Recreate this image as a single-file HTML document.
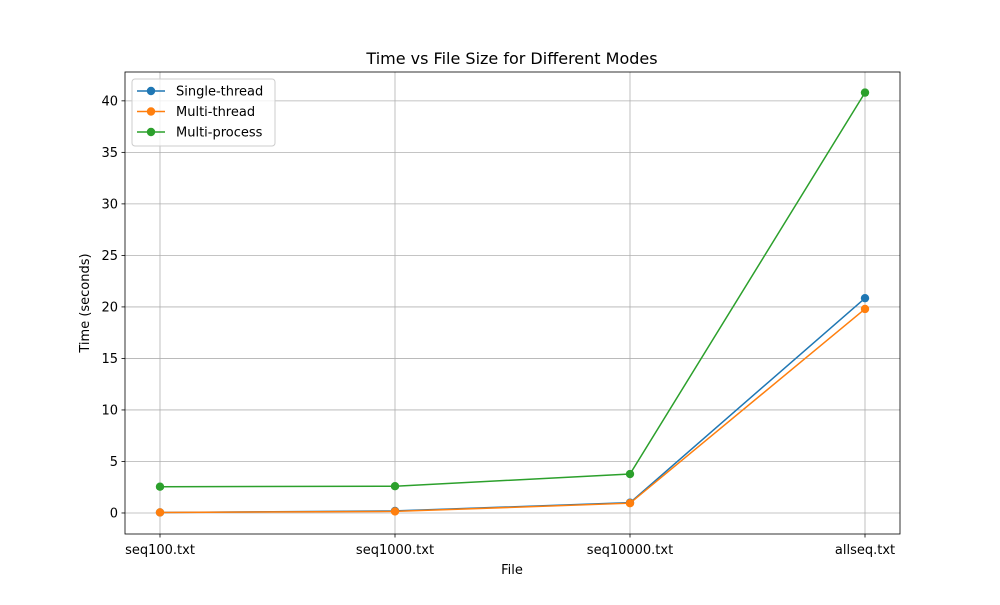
<!DOCTYPE html>
<html><head><meta charset="utf-8"><style>body{margin:0;background:#fff}svg{font-family:"DejaVu Sans","Liberation Sans",sans-serif}</style></head>
<body>
<svg id="chart" width="1000" height="600"></svg>
<script>
const categories=["seq100.txt","seq1000.txt","seq10000.txt","allseq.txt"];
const singleThread=[0.05,0.2,1.0,20.85];
const multiThread=[0.05,0.15,0.95,19.8];
const multiProcess=[2.55,2.6,3.78,40.8];
const yTicks=[0,5,10,15,20,25,30,35,40];
const seriesNames=["Single-thread","Multi-thread","Multi-process"];
const colors=["#1f77b4","#ff7f0e","#2ca02c"];
const L=125,R=900,T=72,B=534;
const yMin=-2.04,yMax=42.8;
const y=v=>B-(v-yMin)/(yMax-yMin)*(B-T);
const x=i=>160+i*(865-160)/(categories.length-1);
const svg=document.getElementById('chart');
const NS="http://www.w3.org/2000/svg";
function mk(t,a,p){const e=document.createElementNS(NS,t);for(const k in a)e.setAttribute(k,a[k]);(p||svg).appendChild(e);return e;}
let e;
e=mk('rect',{x:L,y:T,width:R-L,height:B-T,fill:'#fff'});


yTicks.forEach(v=>{
 e=mk('line',{x1:L,x2:R,y1:y(v),y2:y(v),stroke:'#b0b0b0','stroke-width':0.8});
 
 
 mk('line',{x1:L-3.5,x2:L,y1:y(v),y2:y(v),stroke:'#000','stroke-width':0.8});
 e=mk('text',{x:L-7,y:y(v)+4.5,'text-anchor':'end','font-size':13});e.textContent=v;
 
 
});
categories.forEach((c,i)=>{
 e=mk('line',{x1:x(i),x2:x(i),y1:T,y2:B,stroke:'#b0b0b0','stroke-width':0.8});
 
 
 mk('line',{x1:x(i),x2:x(i),y1:B,y2:B+3.5,stroke:'#000','stroke-width':0.8});
 e=mk('text',{x:x(i),y:B+20,'text-anchor':'middle','font-size':13});e.textContent=c;
 
 
});
e=mk('rect',{x:L,y:T,width:R-L,height:B-T,fill:'none',stroke:'#000','stroke-width':0.8});


[singleThread,multiThread,multiProcess].forEach((s,k)=>{
 const g=mk('g',{});
 
 
 mk('polyline',{points:s.map((v,i)=>x(i)+','+y(v)).join(' '),fill:'none',stroke:colors[k],'stroke-width':1.5},g);
 s.forEach((v,i)=>{e=mk('circle',{cx:x(i),cy:y(v),r:4.2,fill:colors[k]},g);
  
  });
});
e=mk('text',{x:512,y:64,'text-anchor':'middle','font-size':16});e.textContent="Time vs File Size for Different Modes";


e=mk('text',{x:512,y:574,'text-anchor':'middle','font-size':13});e.textContent="File";


e=mk('text',{x:89,y:303,'text-anchor':'middle','font-size':13,transform:'rotate(-90 89 303)'});e.textContent="Time (seconds)";


const lg=mk('g',{});


mk('rect',{x:132,y:79,width:143,height:67,rx:3,fill:'#fff','fill-opacity':0.8,stroke:'#ccc'},lg);
seriesNames.forEach((n,k)=>{
 const yy=91+k*20.5;
 const it=mk('g',{},lg);
 
 
 mk('line',{x1:137,x2:165,y1:yy,y2:yy,stroke:colors[k],'stroke-width':1.5},it);
 mk('circle',{cx:151,cy:yy,r:4.2,fill:colors[k]},it);
 const t=mk('text',{x:176,y:yy+4.5,'font-size':13},it);t.textContent=n;
});
</script>
</body></html>
